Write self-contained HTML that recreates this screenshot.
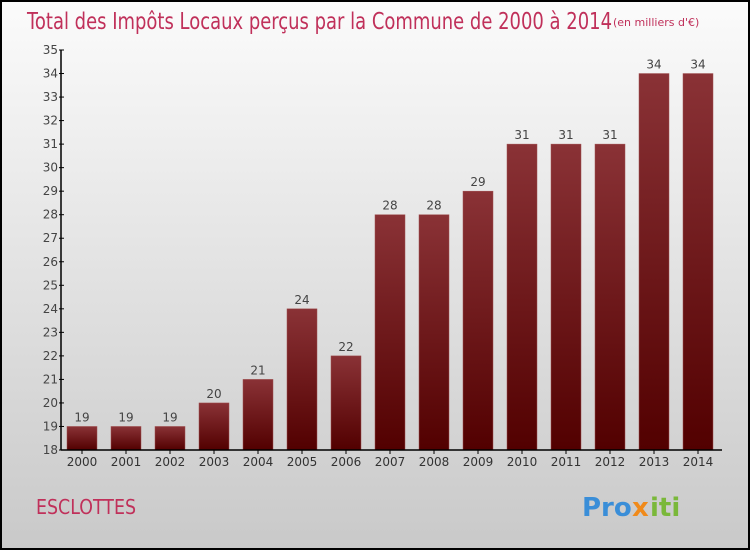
<!DOCTYPE html>
<html><head><meta charset="utf-8"><style>
body{margin:0;}
#c{width:750px;height:550px;position:relative;box-sizing:border-box;border:2px solid #000;background:linear-gradient(#fbfbfb,#c9c9c9);overflow:hidden;font-family:"DejaVu Sans","Liberation Sans",sans-serif;}
svg{position:absolute;left:-2px;top:-2px;}
</style></head><body>
<div id="c">
<svg id="s" width="750" height="550">
<defs><linearGradient id="g" x1="0" y1="0" x2="0" y2="1"><stop offset="0" stop-color="#8a3236"/><stop offset="1" stop-color="#520000"/></linearGradient></defs>
<text x="27" y="29" font-size="23" fill="#c0305a" textLength="585" lengthAdjust="spacingAndGlyphs">Total des Impôts Locaux perçus par la Commune de 2000 à 2014</text>
<text x="613" y="26" font-size="11" fill="#c0305a">(en milliers d'€)</text>
<text x="36" y="514" font-size="20" fill="#c0305a" textLength="100" lengthAdjust="spacingAndGlyphs">ESCLOTTES</text>
<g font-size="26" font-weight="bold">
<text x="582" y="516" fill="#3a8ed8">Pro</text><text x="632" y="516" fill="#f08a1a">x</text><text x="650" y="516" fill="#7ab83a">iti</text>
</g>
</svg></div>
<script>
const categories=["2000","2001","2002","2003","2004","2005","2006","2007","2008","2009","2010","2011","2012","2013","2014"];
const values=[19,19,19,20,21,24,22,28,28,29,31,31,31,34,34];
const yTicks=[18,19,20,21,22,23,24,25,26,27,28,29,30,31,32,33,34,35];
const s=document.getElementById('s');const NS='http://www.w3.org/2000/svg';
const y0=450,y1=50,vmin=18,vmax=35;
const y=v=>y0-(v-vmin)*(y0-y1)/(vmax-vmin);
const x=i=>82+i*44;
function mk(t,a,txt){const e=document.createElementNS(NS,t);for(const k in a)e.setAttribute(k,a[k]);if(txt!=null)e.textContent=txt;s.appendChild(e);return e;}
values.forEach((v,i)=>{
 const r=mk('rect',{x:x(i)-15,y:y(v),width:30,height:y0-y(v),fill:'url(#g)',stroke:'#a05050','stroke-width':0.5});
 
 
 const t=mk('text',{x:x(i),y:y(v)-5,'font-size':12,fill:'#444','text-anchor':'middle'},v);
 
 
 const c=mk('text',{x:x(i),y:466,'font-size':12,fill:'#333','text-anchor':'middle'},categories[i]);
 
 
 const tk=mk('line',{x1:x(i),x2:x(i),y1:450,y2:454,stroke:'#000'});
 
 
});
yTicks.forEach(v=>{
 const l=mk('line',{x1:59,x2:64,y1:y(v),y2:y(v),stroke:'#000'});
 
 
 const t=mk('text',{x:58,y:y(v)+4,'font-size':12,fill:'#444','text-anchor':'end'},v);
 
 
});
const ya=mk('line',{x1:61,x2:61,y1:50,y2:450,stroke:'#000','stroke-width':1.5});


const xa=mk('line',{x1:61,x2:722,y1:450,y2:450,stroke:'#000','stroke-width':1.5});


</script>
</body></html>
